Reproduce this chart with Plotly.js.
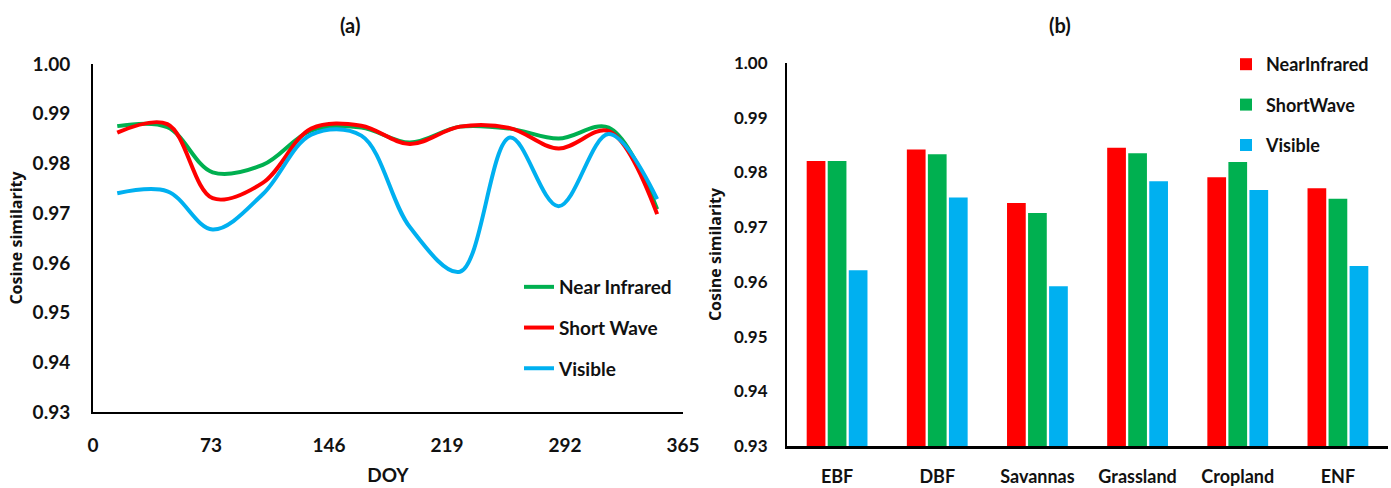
<!DOCTYPE html>
<html>
<head>
<meta charset="utf-8">
<script src="https://cdn.plot.ly/plotly-3.0.1.min.js"></script>
<style>html,body{margin:0;padding:0;background:#fff;}#chart{width:1391px;height:488px;}</style>
</head>
<body>
<div id="chart"></div>
<script>
// ---- Panel (a): cosine similarity through the year ----
const doy = [15, 46, 74, 105, 135, 166, 196, 227, 258, 288, 319, 349];
const nearInfrared = [0.9875, 0.9873, 0.9782, 0.9797, 0.9866, 0.9872, 0.9842, 0.9874, 0.9870, 0.9850, 0.9872, 0.9708];
const shortWave    = [0.9862, 0.9879, 0.9730, 0.9761, 0.9870, 0.9876, 0.9839, 0.9874, 0.9871, 0.9830, 0.9865, 0.9698];
const visible      = [0.9740, 0.9744, 0.9667, 0.9738, 0.9858, 0.9856, 0.9672, 0.9582, 0.9852, 0.9714, 0.9859, 0.9728];
const doyTicks = [0, 73, 146, 219, 292, 365];

// ---- Panel (b): cosine similarity by land cover ----
const landCover = ["EBF", "DBF", "Savannas", "Grassland", "Cropland", "ENF"];
const barNearInfrared = [0.9821, 0.9842, 0.9744, 0.9845, 0.9791, 0.9771];
const barShortWave    = [0.9821, 0.9833, 0.9726, 0.9835, 0.9819, 0.9752];
const barVisible      = [0.9621, 0.9754, 0.9592, 0.9784, 0.9768, 0.9629];

const yTicks = [0.93, 0.94, 0.95, 0.96, 0.97, 0.98, 0.99, 1.00];

const RED = "#FF0000", GREEN = "#00B050", BLUE = "#00B0F0";
const FONT = "Lato, 'Open Sans', sans-serif";
const TXT = "#111111";

const traces = [
  {x: doy, y: nearInfrared, name: "Near Infrared", type: "scatter", mode: "lines",
   line: {color: GREEN, width: 4, shape: "spline", smoothing: 1}, xaxis: "x", yaxis: "y", legend: "legend", legendgroup: "a1"},
  {x: doy, y: shortWave, name: "Short Wave", type: "scatter", mode: "lines",
   line: {color: RED, width: 4, shape: "spline", smoothing: 1}, xaxis: "x", yaxis: "y", legend: "legend", legendgroup: "a2"},
  {x: doy, y: visible, name: "Visible", type: "scatter", mode: "lines",
   line: {color: BLUE, width: 4, shape: "spline", smoothing: 1}, xaxis: "x", yaxis: "y", legend: "legend", legendgroup: "a3"},
  {x: landCover, y: barNearInfrared, name: "NearInfrared", type: "bar", marker: {color: RED},
   xaxis: "x2", yaxis: "y2", legend: "legend2", legendgroup: "b1", base: 0},
  {x: landCover, y: barShortWave, name: "ShortWave", type: "bar", marker: {color: GREEN},
   xaxis: "x2", yaxis: "y2", legend: "legend2", legendgroup: "b2", base: 0},
  {x: landCover, y: barVisible, name: "Visible", type: "bar", marker: {color: BLUE},
   xaxis: "x2", yaxis: "y2", legend: "legend2", legendgroup: "b3", base: 0}
];

const tickFontA = {family: FONT, size: 19, color: TXT, weight: 700};
const tickFontB = {family: FONT, size: 17, color: TXT, weight: 700};
const tickFontBx = {family: FONT, size: 18, color: TXT, weight: 700};
const titleFont = {family: "'Open Sans', sans-serif", size: 16, color: TXT, weight: 700};

const layout = {
  width: 1391, height: 488,
  margin: {l: 0, r: 0, t: 0, b: 0, pad: 0},
  paper_bgcolor: "#fff", plot_bgcolor: "#fff",
  showlegend: true,
  barmode: "group", bargap: 0.37, bargroupgap: 0.11,
  xaxis: {
    domain: [93/1391, 683/1391], anchor: "y", range: [0, 365],
    tickmode: "array", tickvals: doyTicks, ticktext: doyTicks.map(String),
    showgrid: false, zeroline: false, showline: true, linecolor: "#000", linewidth: 2,
    ticks: "", ticklabelstandoff: 15, tickfont: tickFontA,
    title: {text: "DOY", font: {family: FONT, size: 19, color: TXT, weight: 700}, standoff: 14},
    automargin: false, fixedrange: true
  },
  yaxis: {
    domain: [(488-412)/488, (488-64)/488], anchor: "x", range: [0.93, 1.00],
    tickmode: "array", tickvals: yTicks, ticktext: yTicks.map(v => v.toFixed(2)),
    showgrid: false, zeroline: false, showline: true, linecolor: "#000", linewidth: 2,
    ticks: "", ticklabelstandoff: 17, tickfont: tickFontA,
    title: {text: "Cosine similarity", font: titleFont, standoff: 6},
    automargin: false, fixedrange: true
  },
  xaxis2: {
    domain: [787/1391, 1388/1391], anchor: "y2",
    type: "category", categoryorder: "array", categoryarray: landCover,
    showgrid: false, zeroline: false, showline: true, linecolor: "#000", linewidth: 2.5,
    ticks: "", ticklabelstandoff: 13, tickfont: tickFontBx,
    automargin: false, fixedrange: true
  },
  yaxis2: {
    domain: [(488-446)/488, (488-63)/488], anchor: "x2", range: [0.93, 1.00],
    tickmode: "array", tickvals: yTicks, ticktext: yTicks.map(v => v.toFixed(2)),
    showgrid: false, zeroline: false, showline: true, linecolor: "#000", linewidth: 2,
    ticks: "", ticklabelstandoff: 14, tickfont: tickFontB,
    title: {text: "Cosine similarity", font: titleFont, standoff: 8},
    automargin: false, fixedrange: true
  },
  legend: {
    x: 519/1391, y: (488-268)/488, xanchor: "left", yanchor: "top",
    bgcolor: "rgba(0,0,0,0)", borderwidth: 0, traceorder: "grouped", tracegroupgap: 13,
    font: {family: FONT, size: 19, color: TXT, weight: 700}, itemclick: false, itemdoubleclick: false
  },
  legend2: {
    x: 1226/1391, y: (488-46)/488, xanchor: "left", yanchor: "top",
    bgcolor: "rgba(0,0,0,0)", borderwidth: 0, traceorder: "grouped", tracegroupgap: 14,
    font: {family: FONT, size: 18, color: TXT, weight: 700}, itemclick: false, itemdoubleclick: false
  },
  annotations: [
    {text: "(a)", x: 350/1391, y: (488-25)/488, xref: "paper", yref: "paper", showarrow: false,
     xanchor: "center", yanchor: "middle", font: {family: FONT, size: 20, color: TXT, weight: 700}},
    {text: "(b)", x: 1060/1391, y: (488-25)/488, xref: "paper", yref: "paper", showarrow: false,
     xanchor: "center", yanchor: "middle", font: {family: FONT, size: 20, color: TXT, weight: 700}}
  ]
};

Plotly.newPlot("chart", traces, layout, {displayModeBar: false, staticPlot: true});
</script>
</body>
</html>
